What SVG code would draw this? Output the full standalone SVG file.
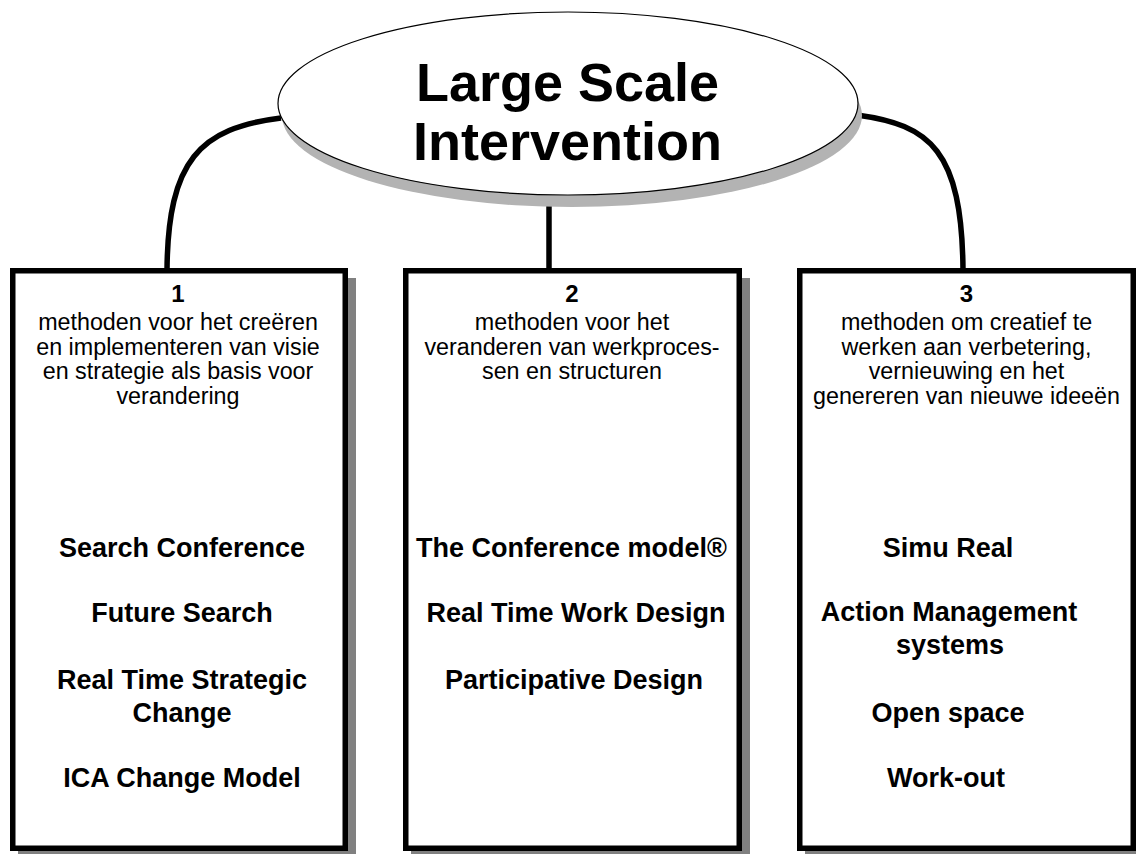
<svg xmlns="http://www.w3.org/2000/svg" width="1136" height="854" viewBox="0 0 1136 854">
  <style>
    .conn { fill: none; stroke: #000; stroke-width: 5.5; stroke-linecap: butt; }
    .box { fill: #fff; stroke: #000; stroke-width: 5.5; }
    .bshadow { fill: #808080; }
    .title { font-family: "Liberation Sans", Arial, sans-serif; font-weight: bold; font-size: 54px; text-anchor: middle; fill: #000; }
    .num { font-family: "Liberation Sans", Arial, sans-serif; font-weight: bold; font-size: 24px; text-anchor: middle; fill: #000; }
    .desc { font-family: "Liberation Sans", Arial, sans-serif; font-size: 23.3px; text-anchor: middle; fill: #000; }
    .item { font-family: "Liberation Sans", Arial, sans-serif; font-weight: bold; font-size: 27px; text-anchor: middle; fill: #000; }
  </style>
  <rect width="1136" height="854" fill="#fff"/>

  <g id="connectors">
    <path class="conn" d="M 281 118 C 200 128, 168 160, 167 270"/>
    <path class="conn" d="M 549 200 L 549 270"/>
    <path class="conn" d="M 857 115 C 930 125, 962 150, 963 270"/>
  </g>

  <g id="node-root">
    <ellipse cx="572" cy="115.5" rx="290" ry="91.5" fill="#b3b3b3"/>
    <ellipse cx="568" cy="103.5" rx="290" ry="91.5" fill="#fff" stroke="#000" stroke-width="1.2"/>
    <text class="title" x="567.5" y="101">Large Scale</text>
    <text class="title" x="567.5" y="160">Intervention</text>
  </g>

  <g id="node-1">
    <rect class="bshadow" x="18" y="278" width="338" height="583"/>
    <rect class="box" x="12.75" y="270.75" width="332.5" height="577.5"/>
    <text class="num" x="178" y="302">1</text>
    <text class="desc" x="178" y="330">methoden voor het creëren</text>
    <text class="desc" x="178" y="354.5">en implementeren van visie</text>
    <text class="desc" x="178" y="379">en strategie als basis voor</text>
    <text class="desc" x="178" y="403.5">verandering</text>
    <text class="item" x="182" y="557">Search Conference</text>
    <text class="item" x="182" y="622">Future Search</text>
    <text class="item" x="182" y="689">Real Time Strategic</text>
    <text class="item" x="182" y="722">Change</text>
    <text class="item" x="182" y="787">ICA Change Model</text>
  </g>

  <g id="node-2">
    <rect class="bshadow" x="411" y="278" width="339" height="583"/>
    <rect class="box" x="405.75" y="270.75" width="333.5" height="577.5"/>
    <text class="num" x="572" y="302">2</text>
    <text class="desc" x="572" y="330">methoden voor het</text>
    <text class="desc" x="572" y="354.5">veranderen van werkproces-</text>
    <text class="desc" x="572" y="379">sen en structuren</text>
    <text class="item" x="571.5" y="557">The Conference model®</text>
    <text class="item" x="576" y="622">Real Time Work Design</text>
    <text class="item" x="574" y="689">Participative Design</text>
  </g>

  <g id="node-3">
    <rect class="bshadow" x="805" y="278" width="339" height="583"/>
    <rect class="box" x="799.75" y="270.75" width="333.5" height="577.5"/>
    <text class="num" x="966.5" y="302">3</text>
    <text class="desc" x="966.5" y="330">methoden om creatief te</text>
    <text class="desc" x="966.5" y="354.5">werken aan verbetering,</text>
    <text class="desc" x="966.5" y="379">vernieuwing en het</text>
    <text class="desc" x="966.5" y="403.5">genereren van nieuwe ideeën</text>
    <text class="item" x="948" y="557">Simu Real</text>
    <text class="item" x="949" y="621">Action Management</text>
    <text class="item" x="950" y="654">systems</text>
    <text class="item" x="948" y="722">Open space</text>
    <text class="item" x="946" y="787">Work-out</text>
  </g>
</svg>
